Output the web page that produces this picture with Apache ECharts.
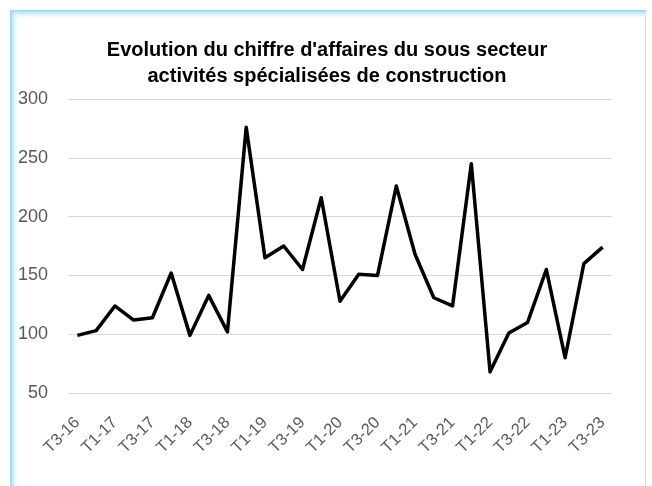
<!DOCTYPE html>
<html>
<head>
<meta charset="utf-8">
<script src="https://cdn.jsdelivr.net/npm/echarts@6/dist/echarts.min.js"></script>
<style>
  html, body { margin: 0; padding: 0; background: #fff; }
  #chart { width: 652px; height: 486px; }
</style>
</head>
<body>
<div id="chart"></div>
<script>
  // quarters T3-16 .. T3-23
  const quarters = [
    "T3-16", "T4-16", "T1-17", "T2-17", "T3-17", "T4-17", "T1-18", "T2-18",
    "T3-18", "T4-18", "T1-19", "T2-19", "T3-19", "T4-19", "T1-20", "T2-20",
    "T3-20", "T4-20", "T1-21", "T2-21", "T3-21", "T4-21", "T1-22", "T2-22",
    "T3-22", "T4-22", "T1-23", "T2-23", "T3-23"
  ];
  const chiffreAffaires = [
    99, 103, 124, 112, 114, 152, 99, 133,
    102, 276, 165, 175, 155, 216, 128, 151,
    150, 226, 168, 131, 124, 245, 68, 101,
    110, 155, 80, 160, 174
  ];
  const titleText = "Evolution du chiffre d'affaires du sous secteur\nactivités spécialisées de construction";

  const chart = echarts.init(document.getElementById("chart"));
  const option = {
    backgroundColor: "#ffffff",
    animation: false,
    graphic: [
      {
        type: "rect",
        shape: { x: 10, y: 10, width: 636, height: 10 },
        style: {
          fill: new echarts.graphic.LinearGradient(0, 0, 0, 1, [
            { offset: 0, color: "#8fd3f2" },
            { offset: 1, color: "rgba(255,255,255,0)" },
          ]),
        },
        z: -1,
      },
      {
        type: "rect",
        shape: { x: 10, y: 10, width: 9, height: 476 },
        style: {
          fill: new echarts.graphic.LinearGradient(0, 0, 1, 0, [
            { offset: 0, color: "#8fd3f2" },
            { offset: 1, color: "rgba(255,255,255,0)" },
          ]),
        },
        z: -1,
      },
      {
        type: "line",
        shape: { x1: 645.5, y1: 16, x2: 645.5, y2: 486 },
        style: { stroke: "#d9d9d9", lineWidth: 1 },
        z: -1,
      },
    ],
    title: {
      text: titleText,
      left: 322,
      top: 32,
      textAlign: "center",
      textStyle: {
        fontFamily: "Liberation Sans",
        fontWeight: "bold",
        fontSize: 20,
        lineHeight: 26,
        color: "#000000",
      },
    },
    grid: {
      left: 68,
      right: 40,
      top: 99,
      bottom: 93,
    },
    xAxis: {
      type: "category",
      data: quarters,
      boundaryGap: true,
      axisLine: { show: false },
      axisTick: { show: false },
      axisLabel: {
        interval: 1,
        rotate: 45,
        margin: 27,
        fontFamily: "Liberation Sans",
        fontSize: 16.5,
        color: "#595959",
      },
    },
    yAxis: {
      type: "value",
      min: 50,
      max: 300,
      interval: 50,
      axisLine: { show: false },
      axisTick: { show: false },
      axisLabel: {
        margin: 20,
        fontFamily: "Liberation Sans",
        fontSize: 18,
        color: "#595959",
      },
      splitLine: { lineStyle: { color: "#d9d9d9", width: 1 } },
    },
    series: [
      {
        name: "Chiffre d'affaires",
        type: "line",
        data: chiffreAffaires,
        showSymbol: false,
        lineStyle: { color: "#000000", width: 3.5, join: "round" },
      },
    ],
  };
  chart.setOption(option);
</script>
</body>
</html>
